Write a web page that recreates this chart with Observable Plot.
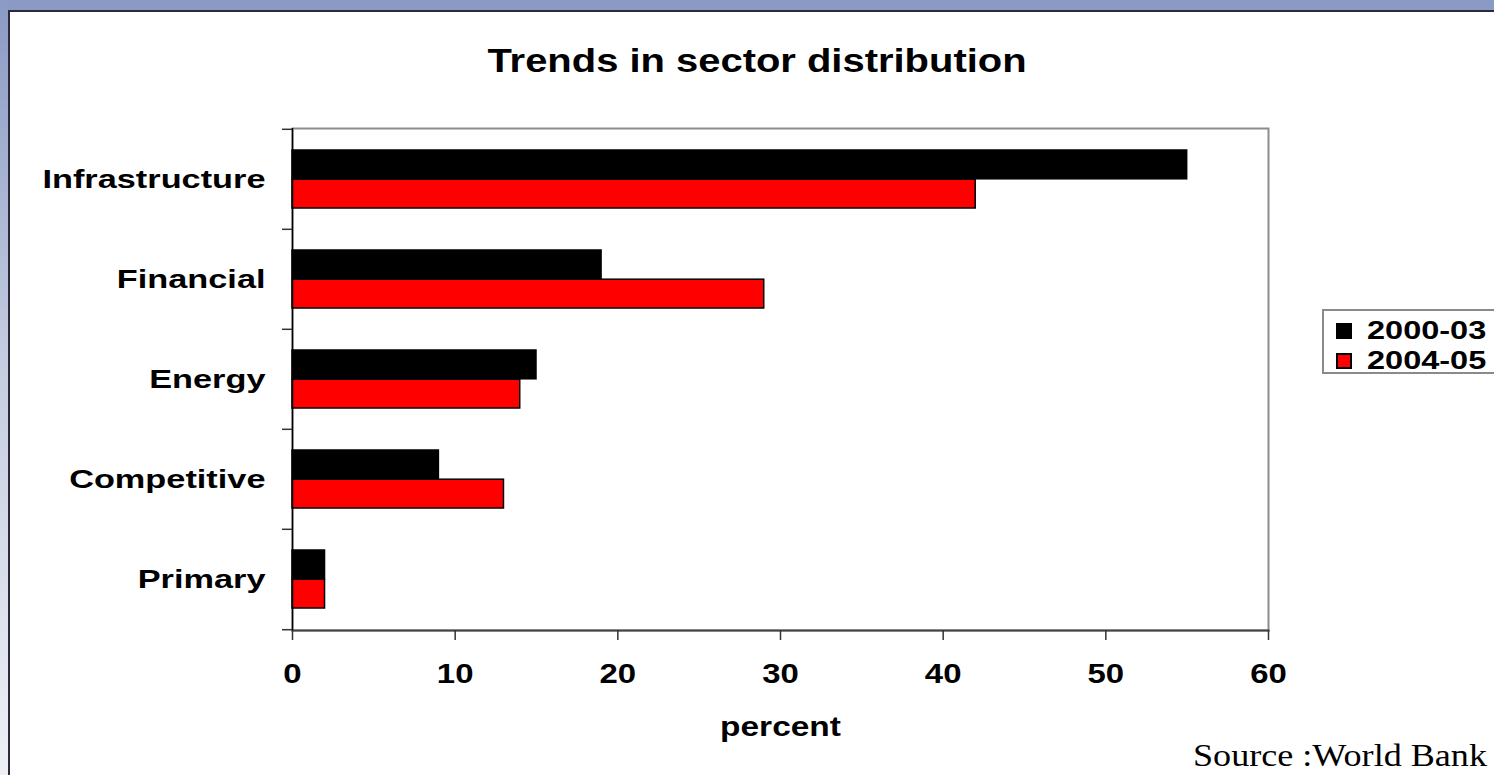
<!DOCTYPE html>
<html>
<head>
<meta charset="utf-8">
<script src="https://cdn.jsdelivr.net/npm/d3@7"></script>
<script src="https://cdn.jsdelivr.net/npm/@observablehq/plot@0.6"></script>
<style>
  html, body { margin: 0; padding: 0; overflow: hidden; background: #fff; }
  #page { position: relative; width: 1494px; height: 775px; overflow: hidden; background: #fff;
          font-family: "Liberation Sans", Arial, sans-serif; }
  #topband { position: absolute; left: 0; top: 0; width: 1494px; height: 10px; background: #8b9ac4; }
  #leftband { position: absolute; left: 0; top: 0; width: 8px; height: 775px;
              background: linear-gradient(#8b9ac4, #c3cbe0 45%, #eef0f6); }
  #topline { position: absolute; left: 8px; right: 0; top: 10px; height: 2px; background: #2b2b3a; }
  #leftline { position: absolute; left: 8px; top: 10px; width: 2px; bottom: 0; background: #2b2b3a; }
  #chart { position: absolute; left: 0; top: 0; }
  #title { position: absolute; left: 757px; top: 44px; font-size: 33px; line-height: 33px; font-weight: bold;
           white-space: nowrap; transform: translateX(-50%) scaleX(1.21); color: #000; }
  #legend { position: absolute; left: 1322px; top: 309px; width: 200px; height: 65px;
            border: 2px solid #8a8a8a; box-sizing: border-box; background: #fff; }
  .lg-item { position: absolute; left: 12px; height: 25px; white-space: nowrap; }
  .lg-sw { position: absolute; left: 0; top: 5px; width: 12px; height: 12px; border: 2px solid #000; }
  .lg-tx { position: absolute; left: 31px; top: 0; font-size: 25px; line-height: 25px; font-weight: bold;
           transform-origin: left center; transform: scaleX(1.3); }
  #source { position: absolute; left: 1193px; top: 740px; font-family: "Liberation Serif", "Times New Roman", serif;
            font-size: 31px; line-height: 31px; white-space: nowrap; transform-origin: left center; transform: scaleX(1.165); }
</style>
</head>
<body>
<div id="page">
  <div id="topband"></div>
  <div id="leftband"></div>
  <div id="topline"></div>
  <div id="leftline"></div>
  <div id="chart"></div>
  <div id="title"></div>
  <div id="legend"></div>
  <div id="source"></div>
</div>
<script>
// ---- data ----
const titleText = "Trends in sector distribution";
const xLabel = "percent";
const sourceText = "Source :World Bank";
const sectors = ["Infrastructure", "Financial", "Energy", "Competitive", "Primary"];
const series = ["2000-03", "2004-05"];
const values2000_03 = [55, 19, 15, 9, 2];
const values2004_05 = [42, 29, 14, 13, 2];
const xTicks = [0, 10, 20, 30, 40, 50, 60];
const seriesColors = ["#000000", "#ff0000"];

// ---- layout ----
const W = 1494, H = 775;
const plotLeft = 292, plotRight = 1268, plotTop = 128, plotBottom = 630;
const band = (plotBottom - plotTop) / sectors.length;
const barGap = 21; // space between band edge and bar group

const rows = [];
sectors.forEach((s, i) => {
  rows.push({sector: s, series: series[0], value: values2000_03[i]});
  rows.push({sector: s, series: series[1], value: values2004_05[i]});
});

const chart = Plot.plot({
  width: W,
  height: H,
  marginLeft: plotLeft,
  marginRight: W - plotRight,
  marginTop: plotTop,
  marginBottom: H - plotBottom,
  style: {background: "transparent", fontFamily: "'Liberation Sans', Arial, sans-serif", color: "#000", overflow: "visible"},
  x: {domain: [xTicks[0], xTicks[xTicks.length - 1]], axis: null},
  y: {domain: sectors, padding: 0, axis: null},
  marks: [
    Plot.frame({stroke: "#8c8c8c", strokeWidth: 2}),
    Plot.barX(rows.filter(d => d.series === series[0]), {
      x: "value", y: "sector", fill: seriesColors[0], stroke: "#000", strokeWidth: 1.5,
      insetTop: barGap, insetBottom: band / 2
    }),
    Plot.barX(rows.filter(d => d.series === series[1]), {
      x: "value", y: "sector", fill: seriesColors[1], stroke: "#000", strokeWidth: 1.5,
      insetTop: band / 2, insetBottom: barGap
    }),
    Plot.frame({anchor: "bottom", stroke: "#444", strokeWidth: 2}),
    Plot.ruleX([0], {stroke: "#000", strokeWidth: 1.5}),
    // category labels
    Plot.axisY({tickSize: 0, tickPadding: 27, fontSize: 26, fontWeight: "bold", label: null}),
    // boundary ticks between categories
    Plot.axisY({tickSize: 10, dy: -band / 2, tickFormat: () => "", stroke: "#333", strokeWidth: 1.5, label: null}),
    Plot.axisY({ticks: [sectors[sectors.length - 1]], tickSize: 10, dy: band / 2, tickFormat: () => "", stroke: "#333", strokeWidth: 1.5, label: null}),
    Plot.axisX({ticks: xTicks, tickSize: 10, tickPadding: 23, fontSize: 27, fontWeight: "bold",
                stroke: "#333", strokeWidth: 1.5, tickFormat: d => String(d),
                label: xLabel, labelArrow: "none", labelAnchor: "center", labelOffset: 105})
  ]
});
document.getElementById("chart").appendChild(chart);

// horizontal stretch of text to match the reference rendering
function stretch(selector, s) {
  chart.querySelectorAll(selector).forEach(t => {
    const tr = t.getAttribute("transform") || "";
    t.setAttribute("transform", tr + ` scale(${s},1)`);
  });
}
stretch('g[aria-label="y-axis tick label"] text', 1.32);
stretch('g[aria-label="x-axis tick label"] text', 1.22);
stretch('g[aria-label="x-axis label"] text', 1.24);

// strip any remaining arrow from the axis label (older versions)
chart.querySelectorAll('g[aria-label="x-axis label"] text').forEach(t => {
  t.textContent = t.textContent.replace(/\s*[→←]\s*/g, "");
});

document.getElementById("title").textContent = titleText;
document.getElementById("source").textContent = sourceText;

const legend = document.getElementById("legend");
series.forEach((s, i) => {
  const item = document.createElement("div");
  item.className = "lg-item";
  item.style.top = (7 + i * 30) + "px";
  const sw = document.createElement("div");
  sw.className = "lg-sw";
  sw.style.background = seriesColors[i];
  const tx = document.createElement("div");
  tx.className = "lg-tx";
  tx.textContent = s;
  item.appendChild(sw);
  item.appendChild(tx);
  legend.appendChild(item);
});
</script>
</body>
</html>
